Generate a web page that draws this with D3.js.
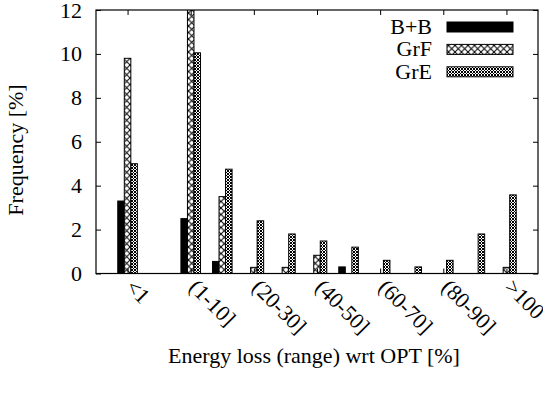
<!DOCTYPE html>
<html>
<head>
<meta charset="utf-8">
<script src="https://cdn.jsdelivr.net/npm/d3@7"></script>
<style>
  body { margin: 0; background: #fff; }
</style>
</head>
<body>
<svg id="chart" width="543" height="397"></svg>
<script>
// ---- data ----
const categories = ["<1", "1", "(1-10]", "(10-20]", "(20-30]", "(30-40]", "(40-50]",
                    "(50-60]", "(60-70]", "(70-80]", "(80-90]", "(90-100]", ">100"];
const tickLabels = ["<1", "(1-10]", "(20-30]", "(40-50]", "(60-70]", "(80-90]", ">100"];
const seriesNames = ["B+B", "GrF", "GrE"];
const bbValues  = [3.3, 0, 2.5, 0.55, 0, 0, 0, 0.3, 0, 0, 0, 0, 0];
const grfValues = [9.8, 0, 12.2, 3.5, 0.28, 0.28, 0.83, 0, 0, 0, 0, 0, 0.28];
const greValues = [5.0, 0, 10.05, 4.75, 2.4, 1.8, 1.48, 1.2, 0.6, 0.3, 0.6, 1.8, 3.58];
const yTicks = [0, 2, 4, 6, 8, 10, 12];

const series = [bbValues, grfValues, greValues];
const FONT = "Liberation Serif";
const FS = 22;

// ---- layout ----
const svg = d3.select("#chart");
const m = { left: 96, right: 538, top: 10, bottom: 273.5 };

const x = d3.scaleLinear().domain([-1, categories.length]).range([m.left, m.right]);
const y = d3.scaleLinear().domain([0, 12]).range([m.bottom, m.top]);
const step = x(1) - x(0);
const bw = step * 0.207;

// patterns
const defs = svg.append("defs");
const pF = defs.append("pattern").attr("id", "pGrF").attr("patternUnits", "userSpaceOnUse")
  .attr("width", 6.5).attr("height", 6.5);
pF.append("rect").attr("width", 6.5).attr("height", 6.5).attr("fill", "#fff");
pF.append("path").attr("d", "M0,0L6.5,6.5M0,6.5L6.5,0").attr("stroke", "#000").attr("stroke-width", 1);
const pE = defs.append("pattern").attr("id", "pGrE").attr("patternUnits", "userSpaceOnUse")
  .attr("width", 3).attr("height", 3);
pE.append("rect").attr("width", 3).attr("height", 3).attr("fill", "#fff");
pE.append("path").attr("d", "M0,0L3,3M0,3L3,0").attr("stroke", "#000").attr("stroke-width", 1);

const fills = ["#000", "url(#pGrF)", "url(#pGrE)"];

// clip
defs.append("clipPath").attr("id", "plotclip").append("rect")
  .attr("x", m.left).attr("y", m.top).attr("width", m.right - m.left).attr("height", m.bottom - m.top);

// bars
const gBars = svg.append("g").attr("clip-path", "url(#plotclip)");
series.forEach((vals, si) => {
  gBars.selectAll(null).data(vals.map((v, i) => ({ v, i })).filter(d => d.v > 0))
    .enter().append("rect")
    .attr("x", d => x(d.i) + (si - 1) * bw - bw / 2)
    .attr("y", d => y(d.v))
    .attr("width", bw)
    .attr("height", d => y(0) - y(d.v))
    .attr("fill", fills[si])
    .attr("stroke", "#000")
    .attr("stroke-width", 1);
});

// axes
const tickIdx = tickLabels.map(t => categories.indexOf(t));
const yLeft = d3.axisLeft(y).tickValues(yTicks).tickSize(-5).tickPadding(14);
const gy = svg.append("g").attr("transform", `translate(${m.left},0)`).call(yLeft)
  .attr("font-family", FONT).attr("font-size", FS);
gy.select(".domain").remove();
gy.selectAll("line").attr("stroke", "#000");

const yRight = d3.axisRight(y).tickValues(yTicks).tickSize(-5).tickFormat("");
const gyr = svg.append("g").attr("transform", `translate(${m.right},0)`).call(yRight);
gyr.select(".domain").remove();

const xBottom = d3.axisBottom(x).tickValues(tickIdx).tickSize(-5).tickFormat("");
const gxb = svg.append("g").attr("transform", `translate(0,${m.bottom})`).call(xBottom);
gxb.select(".domain").remove();
const xTop = d3.axisTop(x).tickValues(tickIdx).tickSize(-5).tickFormat("");
const gxt = svg.append("g").attr("transform", `translate(0,${m.top})`).call(xTop);
gxt.select(".domain").remove();

// x labels rotated
svg.append("g").attr("font-family", FONT).attr("font-size", FS)
  .selectAll("text").data(tickLabels).enter().append("text")
  .attr("transform", d => `translate(${x(categories.indexOf(d)) - 3},${m.bottom + 15}) rotate(45)`)
  .attr("text-anchor", "start")
  .text(d => d);

// frame
svg.append("rect").attr("x", m.left).attr("y", m.top)
  .attr("width", m.right - m.left).attr("height", m.bottom - m.top)
  .attr("fill", "none").attr("stroke", "#000").attr("stroke-width", 1.2);

// axis titles
svg.append("text").attr("x", 314).attr("y", 363).attr("text-anchor", "middle")
  .attr("font-family", FONT).attr("font-size", FS).text("Energy loss (range) wrt OPT [%]");
svg.append("text").attr("transform", "translate(23,150) rotate(-90)").attr("text-anchor", "middle")
  .attr("font-family", FONT).attr("font-size", FS).text("Frequency [%]");

// legend
const lg = svg.append("g").attr("font-family", FONT).attr("font-size", FS);
seriesNames.forEach((name, i) => {
  const cy = 27 + i * 22.4;
  lg.append("text").attr("x", 432).attr("y", cy + 7).attr("text-anchor", "end").text(name);
  lg.append("rect").attr("x", 447).attr("y", cy - 5).attr("width", 66).attr("height", 10)
    .attr("fill", fills[i]).attr("stroke", "#000").attr("stroke-width", 1);
});
</script>
</body>
</html>
